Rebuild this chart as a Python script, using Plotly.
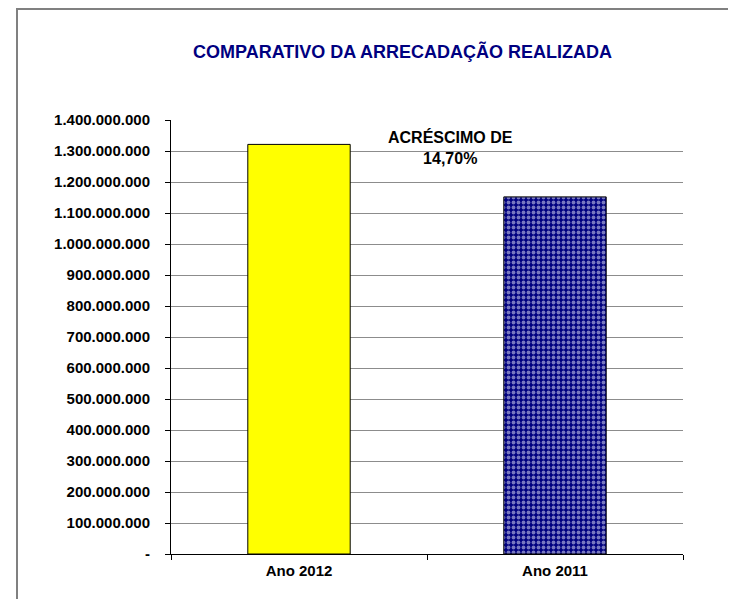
import plotly.graph_objects as go

categories = ["Ano 2012", "Ano 2011"]
values = [1321300000, 1152000000]
tick_vals = [i * 100000000 for i in range(15)]
tick_text = ["-"] + [f"{i*100:,}.000.000".replace(",", ".") for i in range(1, 15)]
title_text = "COMPARATIVO DA ARRECADAÇÃO REALIZADA"
note_text = "ACRÉSCIMO DE<br>14,70%"

# page offset of 8px (body margin) is compensated here
OFF = 8
W, H = 736 - OFF, 599 - OFF
L, R, T, B = 171 - OFF, 53, 120 - OFF, 45
pw, ph = W - L - R, H - T - B  # 512 x 434


def px_x(x):
    return (x - 171) / pw


def px_y(y):
    return (554 - y) / ph


fig = go.Figure()
fig.add_trace(go.Bar(
    x=[categories[0]], y=[values[0]], width=0.4,
    marker=dict(color="#FFFF00", line=dict(color="black", width=1)),
    showlegend=False, hoverinfo="skip"))
fig.add_trace(go.Bar(
    x=[categories[1]], y=[values[1]], width=0.4,
    marker=dict(color="#000080", line=dict(color="black", width=1),
                pattern=dict(shape=".", bgcolor="#000080", fgcolor="#F0F0FF",
                             size=5, solidity=0.45, fillmode="overlay")),
    showlegend=False, hoverinfo="skip"))

font = "Liberation Sans, Arial, sans-serif"
fig.update_layout(
    width=W, height=H,
    margin=dict(l=L, r=R, t=T, b=B, pad=0),
    paper_bgcolor="white", plot_bgcolor="white",
    bargap=0.6,
    font=dict(family=font, color="black"),
    xaxis=dict(showline=True, linecolor="black", linewidth=1, ticks="outside",
               tickson="boundaries", ticklen=5, tickcolor="black",
               ticklabelstandoff=3,
               tickfont=dict(size=15, family=font, color="black", weight="bold"),
               showgrid=False),
    yaxis=dict(range=[0, 1400000000], tickvals=tick_vals, ticktext=tick_text,
               showline=True, linecolor="black", linewidth=1, ticks="outside",
               ticklen=5, tickcolor="black", showgrid=True, gridcolor="#8C8C8C",
               gridwidth=1, zeroline=False, ticklabelstandoff=12,
               tickfont=dict(size=15, family=font, color="black", weight="bold")),
)

fig.add_annotation(x=px_x(402), y=px_y(51), xref="paper", yref="paper",
                   text=f"<b>{title_text}</b>", showarrow=False, xanchor="center", yanchor="middle",
                   font=dict(size=18, color="#000080", family=font))
fig.add_annotation(x=0.59, y=1312000000, xref="x", yref="y",
                   text=f"<b>{note_text}</b>", showarrow=False, xanchor="center", yanchor="middle",
                   font=dict(size=16, color="black", family=font))

fig.add_shape(type="rect", xref="paper", yref="paper",
              x0=px_x(17), x1=px_x(800), y0=px_y(700), y1=px_y(9),
              line=dict(color="#808080", width=2), layer="below")

fig.write_html("out.html")
